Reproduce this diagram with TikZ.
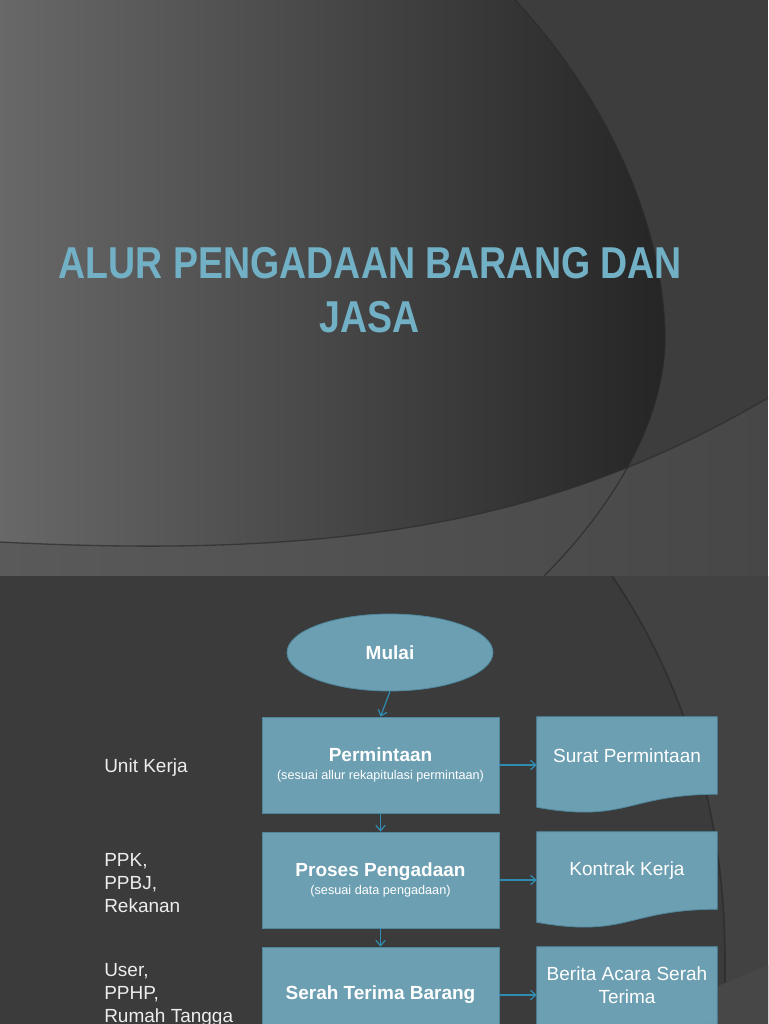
\documentclass[tikz,border=0pt]{standalone}
\usepackage{fontspec}
\setmainfont{Liberation Sans}
\newfontfamily\titlefont[FakeStretch=0.84]{Liberation Sans}
\usetikzlibrary{shapes.geometric,arrows.meta,calc}
\definecolor{boxfill}{HTML}{6C9FB2}
\definecolor{boxline}{HTML}{4E879C}
\definecolor{arrowc}{HTML}{2F8DB3}
\definecolor{titlec}{HTML}{72B0C6}
\definecolor{txt}{HTML}{EDEDED}
\definecolor{topbg}{HTML}{3D3D3D}
\definecolor{circL}{HTML}{686868}
\definecolor{circM}{HTML}{3C3C3C}
\definecolor{circR}{HTML}{252525}
\definecolor{bandL}{HTML}{5A5A5A}
\definecolor{bandR}{HTML}{474747}
\definecolor{botbg}{HTML}{3B3B3B}
\definecolor{botright}{HTML}{424242}
\definecolor{arcline}{HTML}{2C2C2C}
\newcommand{\subfnt}{\fontsize{9.5}{13}\selectfont\mdseries}
\begin{document}
\begin{tikzpicture}[x=0.75pt,y=-0.75pt,
  procbox/.style={rectangle,draw=boxline,fill=boxfill,line width=0.6pt,minimum width=177.75pt,minimum height=72pt,inner sep=0pt,align=center,text=white,font=\fontsize{14.25}{13}\selectfont\bfseries},
  doctext/.style={rectangle,minimum width=135pt,minimum height=57.75pt,inner sep=0pt,align=center,text=white,font=\fontsize{14.25}{17.2}\selectfont},
  docshape/.style={fill=boxfill,draw=boxline,line width=0.6pt},
  startell/.style={ellipse,draw=boxline,fill=boxfill,line width=0.6pt,minimum width=154.5pt,minimum height=57.75pt,inner sep=0pt,text=white,font=\fontsize{14.25}{17}\selectfont\bfseries},
  conn/.style={draw=arrowc,line width=0.9pt,-{Straight Barb[length=4pt,width=7pt]}},
  role/.style={anchor=base west,align=left,inner sep=0pt,text=txt,font=\fontsize{14.25}{16.9}\selectfont},
  titlestyle/.style={anchor=base,inner sep=0pt,text=titlec,font=\titlefont\bfseries\fontsize{33.5}{40}\selectfont}
]
\useasboundingbox (0,0) rectangle (768,1024);
\clip (0,0) rectangle (768,1024);

% ---------- top slide background ----------
\fill[topbg] (0,0) rectangle (768,576);
\shade[left color=circL, middle color=circM, right color=circR]
  (0,0) -- (515,0) .. controls (590,80) and (660,200) .. (665,330)
  .. controls (668,420) and (610,510) .. (544,576) -- (0,576) -- cycle;
\shade[left color=bandL, right color=bandR]
  (0,542) .. controls (350,560) and (560,520) .. (768,398) -- (768,576) -- (0,576) -- cycle;
\draw[arcline, line width=1pt, opacity=0.7]
  (0,542) .. controls (350,560) and (560,520) .. (768,398);
\draw[arcline, line width=0.9pt, opacity=0.8]
  (515,0) .. controls (590,80) and (660,200) .. (665,330)
  .. controls (668,420) and (610,510) .. (544,576);

% title
\node[titlestyle] (t1) at (370.5,278) {ALUR PENGADAAN BARANG DAN};
\node[titlestyle] (t2) at (370,332) {JASA};

% ---------- bottom slide background ----------
\fill[botbg] (0,576) rectangle (768,1024);
\fill[botright] (612,576) .. controls (670,660) and (725,790) .. (725,960)
  -- (725,1024) -- (768,1024) -- (768,576) -- cycle;
\draw[arcline, line width=1.2pt, opacity=0.8]
  (612,576) .. controls (670,660) and (725,790) .. (725,960) -- (725,1024);
\fill[bandR] (700,994) .. controls (722,984) and (745,975) .. (768,965)
  -- (768,1024) -- (700,1024) -- cycle;

% ---------- flowchart ----------
\node[startell] (mulai) at (390,652.5) {Mulai};

\node[procbox] (perm) at (380.5,765)
  {Permintaan\\{\subfnt (sesuai allur rekapitulasi permintaan)}};
\node[procbox] (proses) at (380.5,880)
  {Proses Pengadaan\\{\subfnt (sesuai data pengadaan)}};
\node[procbox] (serah) at (380.5,995) {Serah Terima Barang};

% document shapes
\node[doctext] (surat) at (627,755.5) {};
\node[doctext] (kontrak) at (627,870.5) {};
\node[doctext] (berita) at (627,985.5) {};
\foreach \d in {surat,kontrak,berita}{
  \path[docshape] (\d.north west) -- (\d.north east) -- (\d.south east)
    .. controls (\d.south) and ($(\d.south)+(0,29)$) .. ($(\d.south west)+(0,13)$) -- cycle;
}
\node[doctext] at (surat.center) {Surat Permintaan};
\node[doctext] at (kontrak.center) {Kontrak Kerja};
\node[doctext] at (berita.center) {Berita Acara Serah\\Terima};

% connectors
\draw[conn] (mulai.south) -- (perm.north);
\draw[conn] (perm.south) -- (proses.north);
\draw[conn] (proses.south) -- (serah.north);
\draw[conn] (perm.east) -- (surat.west |- perm.east);
\draw[conn] (proses.east) -- (kontrak.west |- proses.east);
\draw[conn] (serah.east) -- (berita.west |- serah.east);

% role labels
\node[role] (unit) at (104,772) {Unit Kerja};
\node[role] (ppk) at (104,912) {PPK,\\PPBJ,\\Rekanan};
\node[role] (user) at (104,1022) {User,\\PPHP,\\Rumah Tangga};
\end{tikzpicture}
\end{document}
